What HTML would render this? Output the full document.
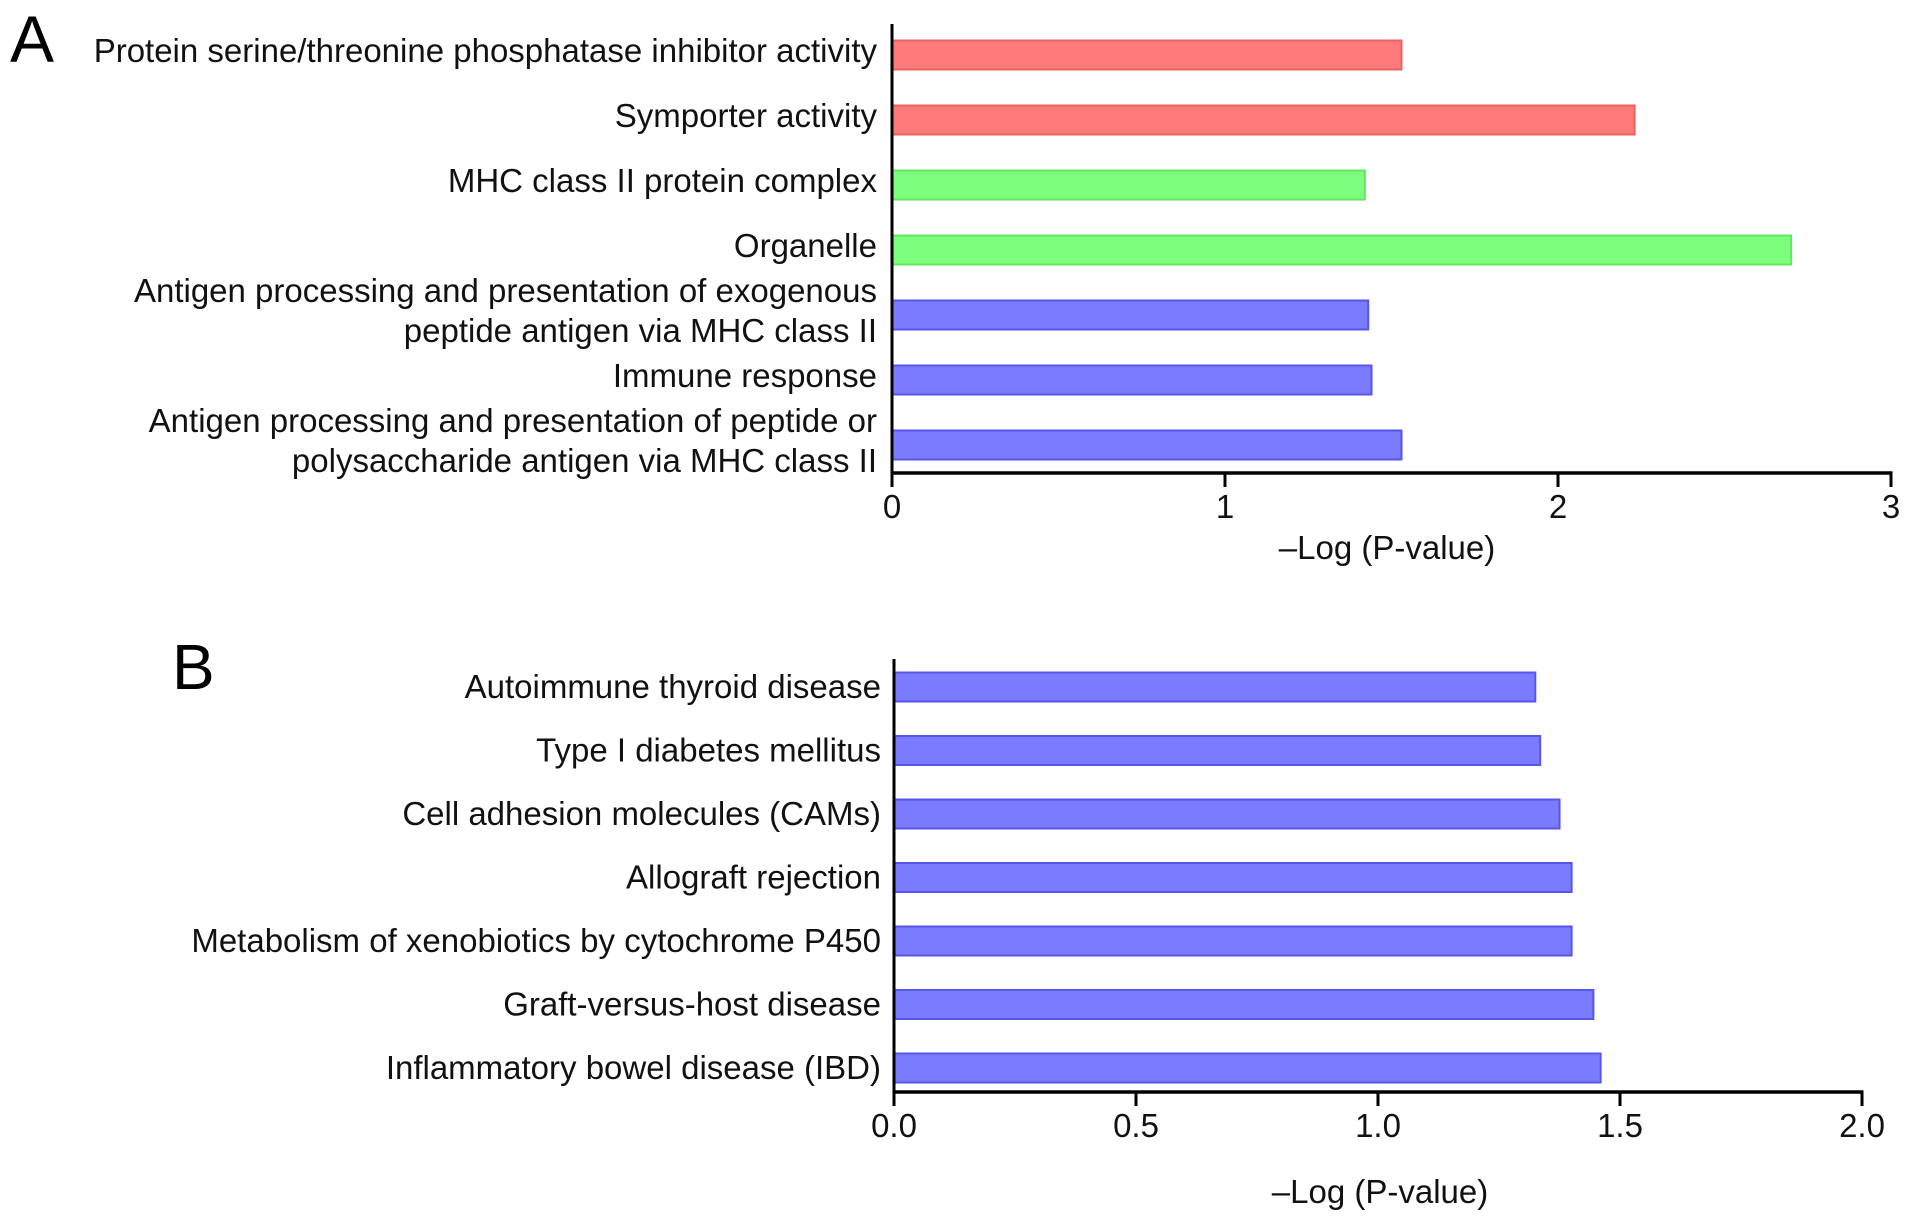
<!DOCTYPE html>
<html><head><meta charset="utf-8"><style>
html,body{margin:0;padding:0;background:#fff;}
svg{display:block;font-family:"Liberation Sans",Arial,sans-serif;}
</style></head><body>
<svg id="chart" width="1913" height="1224" viewBox="0 0 1913 1224" xmlns="http://www.w3.org/2000/svg">
<text x="10" y="62" font-size="66" fill="#000">A</text>
<text x="172" y="689" font-size="64" fill="#000">B</text>
<g id="pa"></g>
<g id="pb"></g>
</svg>
<script>
// Panel A data
const catsA = [["Protein serine/threonine phosphatase inhibitor activity"],["Symporter activity"],["MHC class II protein complex"],["Organelle"],["Antigen processing and presentation of exogenous","peptide antigen via MHC class II"],["Immune response"],["Antigen processing and presentation of peptide or","polysaccharide antigen via MHC class II"]];
const valsA = [1.53, 2.23, 1.42, 2.70, 1.43, 1.44, 1.53];
const groupA = ["mf","mf","cc","cc","bp","bp","bp"];
const ticksA = [0,1,2,3];
const tickLabelsA = ["0","1","2","3"];
// Panel B data
const catsB = [["Autoimmune thyroid disease"],["Type I diabetes mellitus"],["Cell adhesion molecules (CAMs)"],["Allograft rejection"],["Metabolism of xenobiotics by cytochrome P450"],["Graft-versus-host disease"],["Inflammatory bowel disease (IBD)"]];
const valsB = [1.325, 1.335, 1.375, 1.40, 1.40, 1.445, 1.46];
const ticksB = [0,0.5,1.0,1.5,2.0];
const tickLabelsB = ["0.0","0.5","1.0","1.5","2.0"];

const NS="http://www.w3.org/2000/svg";
const colors={mf:["#ff7b7b","#e86262"],cc:["#7dff7d","#5fe85f"],bp:["#7b7bff","#5656ea"]};
function mk(parent,tag,attrs){const e=document.createElementNS(NS,tag);for(const k in attrs)e.setAttribute(k,attrs[k]);parent.appendChild(e);return e;}

function draw(g,cfg){
  const xs=v=>cfg.x0+(v-cfg.min)/(cfg.max-cfg.min)*(cfg.x1-cfg.x0);
  const n=cfg.cats.length;
  const ys=i=>cfg.yFirst+i*(cfg.yLast-cfg.yFirst)/(n-1);
  cfg.vals.forEach((v,i)=>{
    const c=colors[cfg.groups[i]];
    const r=mk(g,'rect',{x:cfg.x0,y:ys(i)-14.5,width:xs(v)-cfg.x0,height:29,fill:c[0],stroke:c[1],'stroke-width':2});
    
    
    const lines=cfg.cats[i];
    const lh=40;
    lines.forEach((t,j)=>{
      const yy=ys(i)+cfg.textOff+(j-(lines.length-1)/2)*lh;
      const tx=mk(g,'text',{x:cfg.labelX,y:yy,'text-anchor':'end','font-size':33,fill:'#111'});
      tx.textContent=t;
      
      
    });
  });
  const ya=mk(g,'line',{x1:cfg.x0,y1:cfg.yTop,x2:cfg.x0,y2:cfg.yAxis+1.5,stroke:'#000','stroke-width':3});
  
  
  const xa=mk(g,'line',{x1:cfg.x0-1.5,y1:cfg.yAxis,x2:cfg.x1+1.5,y2:cfg.yAxis,stroke:'#000','stroke-width':3.5});
  
  
  cfg.ticks.forEach((t,i)=>{
    mk(g,'line',{x1:xs(t),y1:cfg.yAxis,x2:xs(t),y2:cfg.yAxis+14,stroke:'#000','stroke-width':3});
    const tl=mk(g,'text',{x:xs(t),y:cfg.yAxis+45,'text-anchor':'middle','font-size':33,fill:'#111'});
    tl.textContent=cfg.tickLabels[i];
    
    
  });
  const tt=mk(g,'text',{x:cfg.titleX,y:cfg.titleY,'text-anchor':'middle','font-size':33,fill:'#111'});
  tt.textContent='\u2013Log (P-value)';
  
  
}
draw(document.getElementById('pa'),{cats:catsA,vals:valsA,groups:groupA,ticks:ticksA,tickLabels:tickLabelsA,min:0,max:3,x0:892,x1:1891,yTop:24,yAxis:473,yFirst:55,yLast:445,labelX:877,titleX:1387,titleY:559,textOff:7});
draw(document.getElementById('pb'),{cats:catsB,vals:valsB,groups:catsB.map(()=>"bp"),ticks:ticksB,tickLabels:tickLabelsB,min:0,max:2,x0:894,x1:1862,yTop:659,yAxis:1092,yFirst:687,yLast:1068,labelX:881,titleX:1380,titleY:1203,textOff:11});
</script>
</body></html>
